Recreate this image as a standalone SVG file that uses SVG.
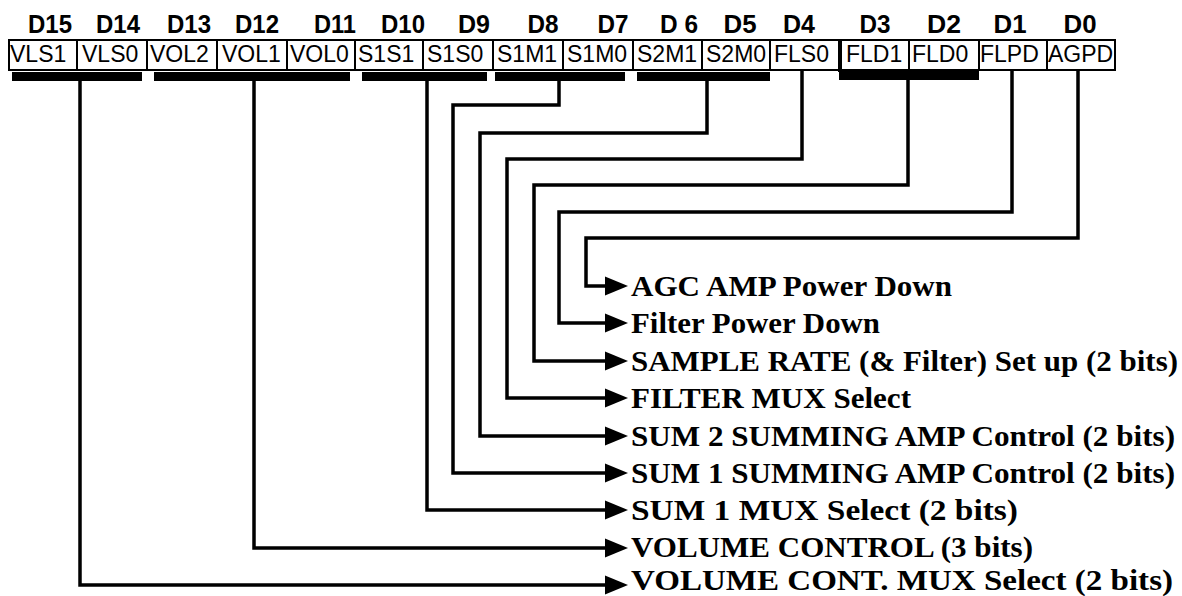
<svg xmlns="http://www.w3.org/2000/svg" width="1182" height="596" viewBox="0 0 1182 596">
<style>
.hd{font-family:"Liberation Sans",Arial,sans-serif;font-weight:bold;font-size:25px;text-anchor:middle;fill:#000}
.cell rect{fill:#fff;stroke:#000;stroke-width:2}
.cell text{font-family:"Liberation Sans",Arial,sans-serif;font-size:23px;fill:#000}
.bar{fill:#000}
.wire{fill:none;stroke:#000;stroke-width:3.5;stroke-linejoin:miter;stroke-linecap:square}
.lbl{font-family:"Liberation Serif","Times New Roman",serif;font-weight:bold;font-size:30px;fill:#000}
</style>
<defs>
<marker id="ah" markerUnits="userSpaceOnUse" markerWidth="24" markerHeight="20" refX="0" refY="10" orient="auto">
<polygon points="0,0.5 23,10 0,19.5" fill="#000"/>
</marker>
</defs>
<g id="headers">
<text class="hd" x="50" y="33" textLength="44" lengthAdjust="spacingAndGlyphs">D15</text>
<text class="hd" x="118" y="33" textLength="44" lengthAdjust="spacingAndGlyphs">D14</text>
<text class="hd" x="189" y="33" textLength="44" lengthAdjust="spacingAndGlyphs">D13</text>
<text class="hd" x="257" y="33" textLength="44" lengthAdjust="spacingAndGlyphs">D12</text>
<text class="hd" x="335" y="33" textLength="42" lengthAdjust="spacingAndGlyphs">D11</text>
<text class="hd" x="403" y="33" textLength="44" lengthAdjust="spacingAndGlyphs">D10</text>
<text class="hd" x="474" y="33" textLength="32" lengthAdjust="spacingAndGlyphs">D9</text>
<text class="hd" x="543" y="33" textLength="31" lengthAdjust="spacingAndGlyphs">D8</text>
<text class="hd" x="613" y="33" textLength="31" lengthAdjust="spacingAndGlyphs">D7</text>
<text class="hd" x="679" y="33" textLength="38" lengthAdjust="spacingAndGlyphs">D 6</text>
<text class="hd" x="740" y="33" textLength="33" lengthAdjust="spacingAndGlyphs">D5</text>
<text class="hd" x="799" y="33" textLength="32" lengthAdjust="spacingAndGlyphs">D4</text>
<text class="hd" x="875" y="33" textLength="31" lengthAdjust="spacingAndGlyphs">D3</text>
<text class="hd" x="944" y="33" textLength="34" lengthAdjust="spacingAndGlyphs">D2</text>
<text class="hd" x="1010" y="33" textLength="33" lengthAdjust="spacingAndGlyphs">D1</text>
<text class="hd" x="1080" y="33" textLength="33" lengthAdjust="spacingAndGlyphs">D0</text>
</g>
<g id="reg-VLS1" class="cell"><rect x="9" y="40" width="68" height="30"/><text x="10" y="62">VLS1</text></g>
<g id="reg-VLS0" class="cell"><rect x="77" y="40" width="70" height="30"/><text x="82" y="62">VLS0</text></g>
<g id="reg-VOL2" class="cell"><rect x="147" y="40" width="70" height="30"/><text x="150" y="62">VOL2</text></g>
<g id="reg-VOL1" class="cell"><rect x="217" y="40" width="70" height="30"/><text x="222" y="62">VOL1</text></g>
<g id="reg-VOL0" class="cell"><rect x="287" y="40" width="68" height="30"/><text x="290" y="62">VOL0</text></g>
<g id="reg-S1S1" class="cell"><rect x="355" y="40" width="68" height="30"/><text x="358" y="62">S1S1</text></g>
<g id="reg-S1S0" class="cell"><rect x="423" y="40" width="70" height="30"/><text x="427" y="62">S1S0</text></g>
<g id="reg-S1M1" class="cell"><rect x="493" y="40" width="70" height="30"/><text x="497" y="62">S1M1</text></g>
<g id="reg-S1M0" class="cell"><rect x="563" y="40" width="70" height="30"/><text x="567" y="62">S1M0</text></g>
<g id="reg-S2M1" class="cell"><rect x="633" y="40" width="69" height="30"/><text x="637" y="62">S2M1</text></g>
<g id="reg-S2M0" class="cell"><rect x="702" y="40" width="68" height="30"/><text x="706" y="62">S2M0</text></g>
<g id="reg-FLS0" class="cell"><rect x="770" y="40" width="70" height="30"/><text x="774" y="62">FLS0</text></g>
<g id="reg-FLD1" class="cell"><rect x="840" y="40" width="69" height="30"/><text x="846" y="62">FLD1</text></g>
<g id="reg-FLD0" class="cell"><rect x="909" y="40" width="70" height="30"/><text x="912" y="62">FLD0</text></g>
<g id="reg-FLPD" class="cell"><rect x="979" y="40" width="68" height="30"/><text x="980" y="62">FLPD</text></g>
<g id="reg-AGPD" class="cell"><rect x="1047" y="40" width="68" height="30"/><text x="1048" y="62">AGPD</text></g>
<g id="bars">
<rect class="bar" x="12" y="72" width="130" height="9"/>
<rect class="bar" x="154" y="72" width="196" height="9"/>
<rect class="bar" x="362" y="72" width="125" height="9"/>
<rect class="bar" x="495" y="72" width="130" height="9"/>
<rect class="bar" x="637" y="72" width="133" height="9"/>
<rect class="bar" x="839" y="70" width="140" height="10"/>
<rect class="bar" x="838" y="40" width="4" height="32"/>
</g>
<g id="connectors">
<polyline class="wire" marker-end="url(#ah)" points="80,80 80,585 605,585"/>
<polyline class="wire" marker-end="url(#ah)" points="254,80 254,548 605,548"/>
<polyline class="wire" marker-end="url(#ah)" points="427,80 427,510 605,510"/>
<polyline class="wire" marker-end="url(#ah)" points="559,80 559,105 453,105 453,473 605,473"/>
<polyline class="wire" marker-end="url(#ah)" points="707,80 707,133 480,133 480,436 605,436"/>
<polyline class="wire" marker-end="url(#ah)" points="802,72 802,159 507,159 507,398 605,398"/>
<polyline class="wire" marker-end="url(#ah)" points="908,80 908,185 534,185 534,361 605,361"/>
<polyline class="wire" marker-end="url(#ah)" points="1012,72 1012,212 559,212 559,323 605,323"/>
<polyline class="wire" marker-end="url(#ah)" points="1078,72 1078,238 586,238 586,286 605,286"/>
</g>
<g id="labels">
<text class="lbl" x="631" y="296" textLength="321" lengthAdjust="spacingAndGlyphs">AGC AMP Power Down</text>
<text class="lbl" x="631" y="333" textLength="249" lengthAdjust="spacingAndGlyphs">Filter Power Down</text>
<text class="lbl" x="631" y="371" textLength="547" lengthAdjust="spacingAndGlyphs">SAMPLE RATE (&amp; Filter) Set up (2 bits)</text>
<text class="lbl" x="631" y="408" textLength="280" lengthAdjust="spacingAndGlyphs">FILTER MUX Select</text>
<text class="lbl" x="631" y="446" textLength="544" lengthAdjust="spacingAndGlyphs">SUM 2 SUMMING AMP Control (2 bits)</text>
<text class="lbl" x="631" y="483" textLength="544" lengthAdjust="spacingAndGlyphs">SUM 1 SUMMING AMP Control (2 bits)</text>
<text class="lbl" x="631" y="520" textLength="387" lengthAdjust="spacingAndGlyphs">SUM 1 MUX Select (2 bits)</text>
<text class="lbl" x="631" y="557" textLength="402" lengthAdjust="spacingAndGlyphs">VOLUME CONTROL (3 bits)</text>
<text class="lbl" x="631" y="590" textLength="542" lengthAdjust="spacingAndGlyphs">VOLUME CONT. MUX Select (2 bits)</text>
</g>
</svg>
